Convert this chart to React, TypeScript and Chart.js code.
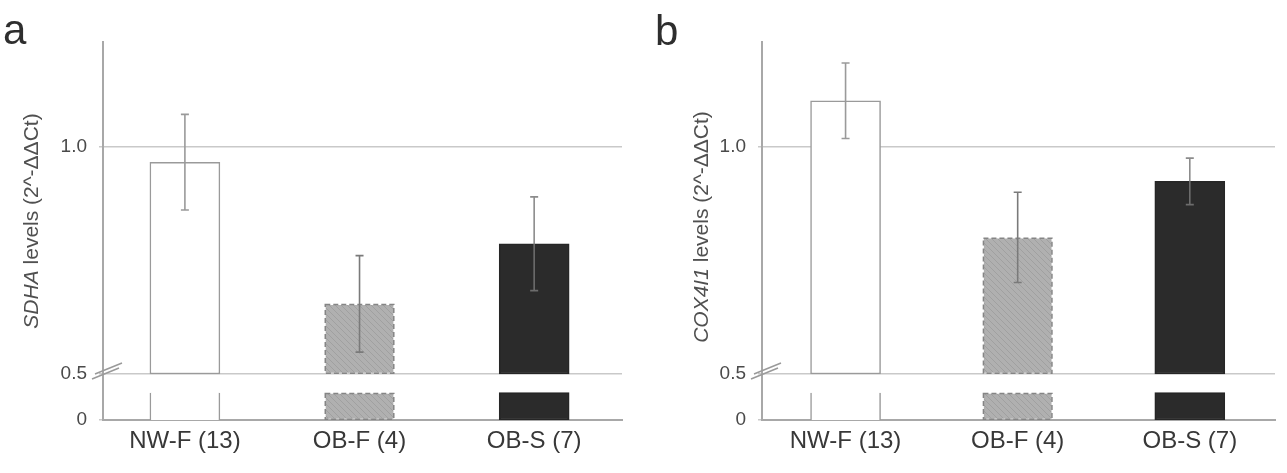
import React, { useEffect, useRef } from "react";
import { Chart, registerables } from "chart.js";

Chart.register(...registerables);

// ---- data ----
const categories = ["NW-F (13)", "OB-F (4)", "OB-S (7)"];
const sdhaMeans = [0.965, 0.654, 0.786];
const sdhaErrors = [0.105, 0.106, 0.103];
const cox4i1Means = [1.1, 0.8, 0.923];
const cox4i1Errors = [0.083, 0.099, 0.051];
const yTickValues = [0, 0.5, 1.0];
const yTickLabels = ["0", "0.5", "1.0"];

// ---- broken axis layout (axis-space positions) ----
const BREAK_VALUE = 0.5; // where the upper segment starts
const BREAK_ZERO = 0.399; // axis position where value 0 is drawn
const BREAK_STUB = 0.459; // top of the lower stub segment
const Y_MAX = 1.229;

const FONT = "'Liberation Sans', Arial, Helvetica, sans-serif";
Chart.defaults.font.family = FONT;

function axisPos(v: number) {
  return v === 0 ? BREAK_ZERO : v;
}

function makeHatch(ctx: CanvasRenderingContext2D) {
  const c = document.createElement("canvas");
  c.width = 6;
  c.height = 6;
  const g = c.getContext("2d")!;
  g.fillStyle = "#b0b0b0";
  g.fillRect(0, 0, 6, 6);
  g.strokeStyle = "#a0a0a0";
  g.lineWidth = 1;
  g.beginPath();
  g.moveTo(0, 0);
  g.lineTo(6, 6);
  g.moveTo(-3, 3);
  g.lineTo(3, 9);
  g.moveTo(3, -3);
  g.lineTo(9, 3);
  g.stroke();
  return ctx.createPattern(c, "repeat")!;
}

type PanelCfg = {
  letter: string;
  italicTitle: string;
  restTitle: string;
  means: number[];
  errors: number[];
  xMin: number;
  xMax: number;
  padLeft: number;
  padRight: number;
  yAxisWidth: number;
  titleX: number;
  titleY: number;
  letterX: number;
  letterY: number;
};

const decorPlugin = {
  id: "decor",
  afterDatasetsDraw(chart: any, _args: any, opts: any) {
    const ctx = chart.ctx as CanvasRenderingContext2D;
    const xs = chart.scales.x;
    const ys = chart.scales.y;
    // dashed outline for hatched bars
    chart.data.datasets.forEach((_: any, di: number) => {
      const meta = chart.getDatasetMeta(di);
      const el = meta.data[1];
      if (!el) return;
      const p = el.getProps(["x", "y", "base", "width"], true);
      const top = Math.min(p.y, p.base);
      const h = Math.abs(p.base - p.y);
      ctx.save();
      ctx.strokeStyle = "#858585";
      ctx.lineWidth = 1.5;
      ctx.setLineDash([5, 3]);
      ctx.strokeRect(p.x - p.width / 2 + 0.75, top + 0.75, p.width - 1.5, h - 1.5);
      ctx.restore();
    });
    // error bars
    const means: number[] = opts.means;
    const errors: number[] = opts.errors;
    ctx.save();
    ctx.lineWidth = 1.6;
    means.forEach((m, i) => {
      const x = xs.getPixelForValue(i);
      const yt = ys.getPixelForValue(m + errors[i]);
      const yb = ys.getPixelForValue(m - errors[i]);
      ctx.strokeStyle = i === 2 ? "rgba(120,120,120,0.85)" : i === 1 ? "#7a7a7a" : "#9a9a9a";
      ctx.beginPath();
      ctx.moveTo(x, yt);
      ctx.lineTo(x, yb);
      ctx.moveTo(x - 4, yt);
      ctx.lineTo(x + 4, yt);
      ctx.moveTo(x - 4, yb);
      ctx.lineTo(x + 4, yb);
      ctx.stroke();
    });
    ctx.restore();
  },
  afterDraw(chart: any, _args: any, opts: any) {
    const ctx = chart.ctx as CanvasRenderingContext2D;
    const ys = chart.scales.y;
    const ax = chart.chartArea.left;
    const yb = ys.getPixelForValue(BREAK_VALUE);
    // axis break marks
    ctx.save();
    ctx.strokeStyle = "#9a9a9a";
    ctx.lineWidth = 1.5;
    ctx.beginPath();
    ctx.moveTo(ax - 8, yb);
    ctx.lineTo(ax + 19, yb - 11);
    ctx.moveTo(ax - 11, yb + 5);
    ctx.lineTo(ax + 16, yb - 6);
    ctx.stroke();
    ctx.restore();
    // y axis title with italic gene name
    ctx.save();
    ctx.fillStyle = "#505050";
    ctx.textBaseline = "middle";
    ctx.translate(opts.titleX, opts.titleY);
    ctx.rotate(-Math.PI / 2);
    const fi = `italic 21px ${FONT}`;
    const fn = `21px ${FONT}`;
    ctx.font = fi;
    const wi = ctx.measureText(opts.italicTitle).width;
    ctx.font = fn;
    const wn = ctx.measureText(opts.restTitle).width;
    let x0 = -(wi + wn) / 2;
    ctx.font = fi;
    ctx.fillText(opts.italicTitle, x0, 0);
    ctx.font = fn;
    ctx.fillText(opts.restTitle, x0 + wi, 0);
    ctx.restore();
    // panel letter
    ctx.save();
    ctx.fillStyle = "#2e2e2e";
    ctx.font = `42px ${FONT}`;
    ctx.textBaseline = "alphabetic";
    ctx.fillText(opts.letter, opts.letterX, opts.letterY);
    ctx.restore();
  },
};

function buildChart(canvas: HTMLCanvasElement, cfg: PanelCfg) {
  const ctx = canvas.getContext("2d")!;
  const hatch = makeHatch(ctx);
  const idx = categories.map((_, i) => i);
  const fills: any[] = ["#ffffff", hatch, "#2b2b2b"];
  const borders = ["#9a9a9a", "rgba(0,0,0,0)", "#262626"];
  return new Chart(canvas, {
    type: "bar",
    data: {
      datasets: [
        {
          label: "upper",
          data: idx.map((i) => ({ x: i, y: [BREAK_VALUE, cfg.means[i]] })) as any,
          backgroundColor: fills,
          borderColor: borders,
          borderWidth: 1.5,
          borderSkipped: false,
          barThickness: 70,
          grouped: false,
        } as any,
        {
          label: "lower",
          data: idx.map((i) => ({ x: i, y: [BREAK_ZERO, BREAK_STUB] })) as any,
          backgroundColor: fills,
          borderColor: borders,
          borderWidth: (c: any) =>
            c.dataIndex === 0 ? { left: 1.5, right: 1.5, top: 0, bottom: 0 } : 1.5,
          borderSkipped: false,
          barThickness: 70,
          grouped: false,
        } as any,
      ],
    },
    options: {
      animation: false,
      responsive: true,
      maintainAspectRatio: false,
      layout: { padding: { left: cfg.padLeft, right: cfg.padRight, top: 42, bottom: 0 } },
      plugins: {
        legend: { display: false },
        tooltip: { enabled: false },
        decor: {
          letter: cfg.letter,
          italicTitle: cfg.italicTitle,
          restTitle: cfg.restTitle,
          means: cfg.means,
          errors: cfg.errors,
          titleX: cfg.titleX,
          titleY: cfg.titleY,
          letterX: cfg.letterX,
          letterY: cfg.letterY,
        },
      } as any,
      scales: {
        x: {
          type: "linear",
          min: cfg.xMin,
          max: cfg.xMax,
          offset: false,
          grid: { display: false, drawTicks: false },
          border: { display: true, color: "#a8a8a8", width: 2 },
          afterBuildTicks: (s: any) => {
            s.ticks = idx.map((i) => ({ value: i }));
          },
          afterFit: (s: any) => {
            s.height = 53;
          },
          ticks: {
            padding: 7,
            color: "#383838",
            font: { size: 24 },
            maxRotation: 0,
            autoSkip: false,
            callback: (v: any) => categories[Math.round(v)] ?? "",
          },
        },
        y: {
          type: "linear",
          min: BREAK_ZERO,
          max: Y_MAX,
          grid: {
            color: (c: any) => (c.tick && c.tick.value === BREAK_ZERO ? "rgba(0,0,0,0)" : "#c9c9c9"),
            lineWidth: 1.5,
            tickLength: 4,
            tickColor: "#c9c9c9",
          },
          border: { display: true, color: "#a8a8a8", width: 2 },
          afterBuildTicks: (s: any) => {
            s.ticks = yTickValues.map((v) => ({ value: axisPos(v) }));
          },
          afterFit: (s: any) => {
            s.width = cfg.yAxisWidth;
          },
          ticks: {
            padding: 12,
            color: "#4a4a4a",
            font: { size: 19 },
            callback: (v: any) => {
              const k = yTickValues.findIndex((t) => Math.abs(axisPos(t) - v) < 1e-6);
              return k >= 0 ? yTickLabels[k] : "";
            },
          },
        },
      },
    },
    plugins: [decorPlugin as any],
  });
}

const panelA: PanelCfg = {
  letter: "a",
  italicTitle: "SDHA",
  restTitle: " levels (2^-\u0394\u0394Ct)",
  means: sdhaMeans,
  errors: sdhaErrors,
  xMin: -0.469,
  xMax: 2.503,
  padLeft: 0,
  padRight: 23,
  yAxisWidth: 103,
  titleX: 32,
  titleY: 221,
  letterX: 3,
  letterY: 44,
};

const panelB: PanelCfg = {
  letter: "b",
  italicTitle: "COX4I1",
  restTitle: " levels (2^-\u0394\u0394Ct)",
  means: cox4i1Means,
  errors: cox4i1Errors,
  xMin: -0.4855,
  xMax: 2.495,
  padLeft: 0,
  padRight: 12,
  yAxisWidth: 117,
  titleX: 57,
  titleY: 227,
  letterX: 10,
  letterY: 45,
};

function Panel({ cfg, width }: { cfg: PanelCfg; width: number }) {
  const ref = useRef<HTMLCanvasElement | null>(null);
  useEffect(() => {
    if (!ref.current) return;
    const chart = buildChart(ref.current, cfg);
    return () => chart.destroy();
  }, [cfg]);
  return (
    <div style={{ position: "relative", width, height: 473 }}>
      <canvas ref={ref} />
    </div>
  );
}

export default function App() {
  return (
    <div
      style={{
        position: "fixed",
        left: 0,
        top: 0,
        width: 1287,
        height: 473,
        display: "flex",
        background: "#ffffff",
      }}
    >
      <Panel cfg={panelA} width={645} />
      <Panel cfg={panelB} width={642} />
    </div>
  );
}
